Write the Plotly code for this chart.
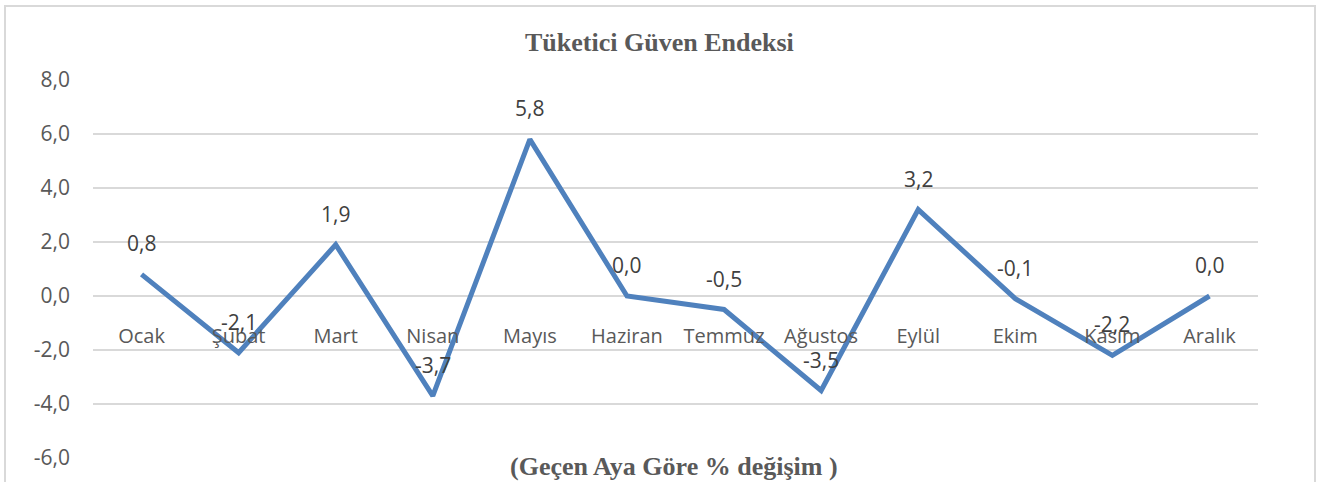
import plotly.graph_objects as go

months = ["Ocak", "Şubat", "Mart", "Nisan", "Mayıs", "Haziran", "Temmuz",
          "Ağustos", "Eylül", "Ekim", "Kasım", "Aralık"]
values = [0.8, -2.1, 1.9, -3.7, 5.8, 0.0, -0.5, -3.5, 3.2, -0.1, -2.2, 0.0]
y_ticks = [-6, -4, -2, 0, 2, 4, 6, 8]
y_tick_labels = ["-6,0", "-4,0", "-2,0", "0,0", "2,0", "4,0", "6,0", "8,0"]
title_text = "Tüketici Güven Endeksi"
subtitle_text = "(Geçen Aya Göre % değişim )"

GRAY = "#595959"
GRID = "#D9D9D9"
LINE = "#4F81BD"

W, H = 1330, 482
L, R, T, B = 93, 72, 80, 24
pw, ph = W - L - R, H - T - B

def px_x(x):
    return (x - L) / pw

def px_y(y):
    return (H - B - y) / ph

fig = go.Figure()
fig.add_trace(go.Scatter(
    x=list(range(len(months))), y=values, mode="lines",
    line=dict(color=LINE, width=5), hoverinfo="skip", showlegend=False,
))

annotations = []
for i, v in enumerate(values):
    annotations.append(dict(
        x=i, y=v, xref="x", yref="y", text=f"{v:.1f}".replace(".", ","),
        showarrow=False, yshift=31, yanchor="middle", xanchor="center",
        font=dict(family="Open Sans", size=21, color="#404040"),
    ))
annotations.append(dict(
    x=px_x(659), y=px_y(43), xref="paper", yref="paper", text=f"<b>{title_text}</b>",
    showarrow=False, xanchor="center", yanchor="middle",
    font=dict(family="Liberation Serif", size=26, color=GRAY),
))
annotations.append(dict(
    x=px_x(674), y=px_y(467), xref="paper", yref="paper", text=f"<b>{subtitle_text}</b>",
    showarrow=False, xanchor="center", yanchor="middle",
    font=dict(family="Liberation Serif", size=26, color=GRAY),
))

fig.update_layout(
    width=W, height=H,
    margin=dict(l=L, r=R, t=T, b=B, pad=0),
    paper_bgcolor="white", plot_bgcolor="white",
    annotations=annotations,
    shapes=[dict(type="rect", xref="paper", yref="paper",
                 x0=px_x(5), x1=px_x(1315), y0=px_y(500), y1=px_y(6),
                 line=dict(color=GRID, width=2), layer="below")],
    xaxis=dict(
        range=[-0.5, len(months) - 0.5],
        tickmode="array", tickvals=list(range(len(months))), ticktext=months,
        anchor="free", position=6 / 14,
        showgrid=False, zeroline=False, showline=False, ticks="",
        ticklabelstandoff=26,
        tickfont=dict(family="Open Sans", size=20, color=GRAY),
    ),
    yaxis=dict(
        range=[-6, 8], tickmode="array", tickvals=y_ticks, ticktext=y_tick_labels,
        showgrid=True, gridcolor=GRID, gridwidth=1.5, zeroline=False,
        showline=False, ticks="", ticklabelstandoff=22,
        tickfont=dict(family="Open Sans", size=21, color=GRAY),
    ),
)

fig.write_html(
    "out.html",
    config={"displayModeBar": False},
    post_script="document.body.style.margin='0';document.body.style.overflow='hidden';",
)
